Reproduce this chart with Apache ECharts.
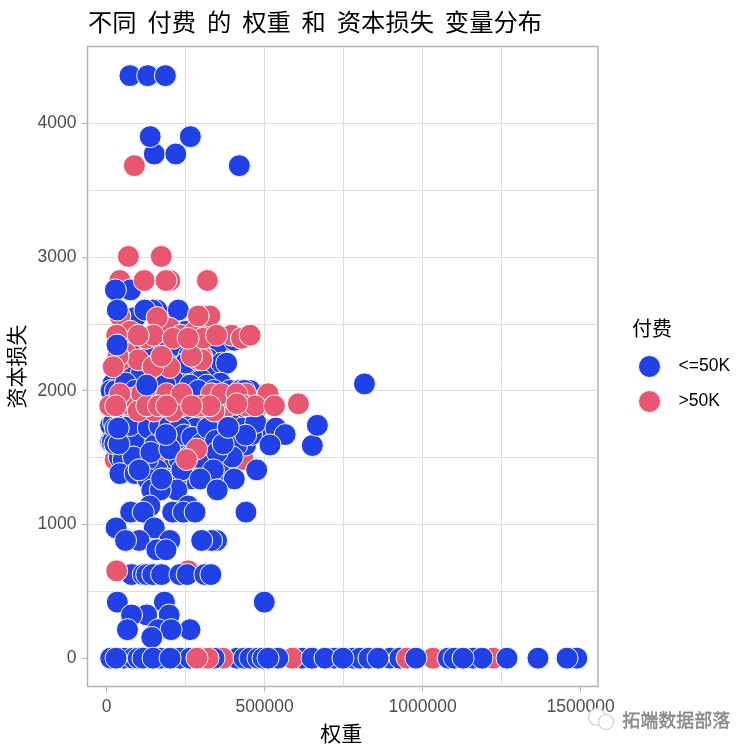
<!DOCTYPE html>
<html><head><meta charset="utf-8">
<style>html,body{margin:0;padding:0;background:#fff}#c{width:753px;height:753px}</style>
<script src="https://cdn.jsdelivr.net/npm/echarts@6/dist/echarts.min.js"></script>
</head><body><div id="c"></div>
<script>
const xTicks = [0, 500000, 1000000, 1500000];
const yTicks = [0, 1000, 2000, 3000, 4000];
const xGrid = [0, 250000, 500000, 750000, 1000000, 1250000, 1500000];
const yGrid = [0, 500, 1000, 1500, 2000, 2500, 3000, 3500, 4000, 4500];
const seriesNames = ['<=50K', '>50K'];

// blue points lying under every red point
const lowBack = [
 [121000,2603],[159000,2603],[145000,2603],[90000,2547],[200000,2467],[250000,2444],[300000,2457],
 [380000,2377],[348000,2339],[404000,2377],[60000,2282],[100000,2267],[140000,2339],[180000,2352],
 [220000,2339],[260000,2258],[320000,2238],[84000,2179],[140000,2174],[190000,2205],[232000,2179],
 [280000,2149],[330000,2129],[364000,2206],[380000,2206],[250000,2206],[110000,2129],[170000,2129],
 [210000,2080],[300000,2080],[360000,2057],[36000,2042],[20000,2051],[14000,2001],[28000,2001],[60000,2057],
 [90000,2002],[155000,2042],[185000,2042],[264000,2042],[317000,2042],[290000,2002],[340000,2002],
 [390000,2002],[422000,2002],[454000,2002],[436000,2002],[300000,1848],[250000,1848],[360000,1825],
 [410000,1844],[150000,1825],[95000,1848],[470000,1848],
 [413000,0],[618000,0],[897000,0],[928000,0]];
// red points lying under most blue points
const highBack = [
 [42000,2824],[200000,2824],[42000,2559],[327000,2559],[396000,2415],[427000,2392],[301000,2258],
 [27000,1485],[116000,1485],[169000,1485],[432000,1485],[296000,1819],[258000,653],
 [368000,0],[588000,0],[951000,0],[1033000,0],[1223000,0]];
// main body of blue points
const lowMid = [
 [74000,4356],[130000,4356],[186000,4356],[151000,3770],[219000,3770],[138000,3900],[265000,3900],[420000,3683],
 [76000,2754],[121000,2603],[227000,2603],[816000,2051],
 [110000,1672],[170000,1602],[250000,1740],[280000,1719],[330000,1669],[360000,1740],[400000,1740],[430000,1721],[490000,1719],
 [440000,1594],[380000,1504],[330000,1485],[290000,1408],[200000,1408],[160000,1408],[70000,1504],[40000,1504],[130000,1485],
 [230000,1485],[190000,1340],[270000,1340],[320000,1380],[370000,1408],[220000,1340],
 [13000,1741],[13000,1617],[18000,1617],[22000,1762],[28000,1721],[37000,1721],[26000,1602],[39000,1602],[60000,1672],[90000,1602],
 [75000,1740],[132000,1721],[153000,1594],[216000,1594],[168000,1735],[200000,1740],[232000,1721],[245000,1669],
 [188000,1669],[270000,1651],[300000,1602],[320000,1721],[345000,1628],[385000,1726],[369000,1602],[412000,1594],
 [459000,1672],[472000,1762],[536000,1721],[565000,1672],[517000,1594],[651000,1590],[667000,1741],[440000,1668],
 [53000,1485],[85000,1504],[140000,1539],[200000,1564],[260000,1504],[306000,1485],[398000,1504],[350000,1539],[240000,1408],
 [42000,1380],[90000,1380],[103000,1408],[475000,1408],[238000,1408],[338000,1408],[296000,1340],[174000,1340],[404000,1340],[130000,1340],
 [350000,1258],[222000,1258],[143000,1258],[170000,1258],[137000,1138],[258000,1138],
 [76000,1092],[116000,1092],[209000,1092],[243000,1092],[280000,1092],[441000,1092],[30000,974],[151000,974],
 [103000,880],[348000,880],[332000,880],[301000,880],[60000,880],[200000,880],[159000,810],[188000,810],
 [79000,625],[116000,625],[127000,625],[146000,625],[174000,625],[232000,625],[255000,625],[311000,625],[330000,625],
 [34000,419],[183000,419],[499000,419],[127000,323],[79000,323],[198000,323],[66000,213],[163000,213],[264000,213],[204000,213],[143000,155],
 [13000,0],[55000,0],[84000,0],[100000,0],[115000,0],[170000,0],[232000,0],[264000,0],[310000,0],[340000,0],[435000,0],[454000,0],
 [479000,0],[495000,0],[542000,0],[650000,0],[720000,0],[780000,0],[802000,0],[830000,0],
 [1081000,0],[1100000,0],[1160000,0],[1188000,0],[1488000,0]];
// red points lying over the blue body
const highTop = [
 [10000,1887],[70000,1887],[60000,1902],[85000,1944],[150000,1944],[215000,1902],[240000,1887],[350000,1902],[385000,1887],[395000,1944],
 [440000,1977],[490000,1902],[210000,1848],[150000,1848],[340000,1848],
 [70000,2415],[125000,2392],[175000,2444],[200000,2467],[235000,2415],[280000,2444],[305000,2392],[75000,2444],[60000,2282],[45000,2231],
 [100000,2231],[290000,2231],[200000,2174],
 [88000,3683],[69000,3004],[173000,3004],[119000,2824],[188000,2824],[319000,2824],[32000,653],
 [285000,1564],[253000,1485],
 [290000,2559],[160000,2547],[36000,2258],[21000,2179],[147000,2179],[301000,2231],[174000,2258],[269000,2258],
 [32000,2415],[148000,2415],[211000,2392],[258000,2392],[427000,2392],[454000,2415],[348000,2415],[100000,2415],
 [42000,1977],[111000,1977],[190000,1977],[238000,1977],[332000,1977],[364000,1977],[412000,1977],[511000,1977],
 [100000,1848],[127000,1887],[164000,1887],[443000,1887],[470000,1887],[301000,1887],[327000,1887],[269000,1887],
 [412000,1902],[190000,1887],[607000,1902],[531000,1887],[29000,1887],[321000,0],[286000,0]];
// blue points drawn last
const lowTop = [
 [28000,2754],[34000,2603],[33000,2342],[127000,2042],[188000,1672],[103000,1408],[174000,1340],[369000,1602],[39000,1602],[37000,1721],
 [385000,1726],[404000,1340],[350000,1258],
 [30000,0],[147000,0],[201000,0],[511000,0],[691000,0],[748000,0],[859000,0],[979000,0],[1128000,0],[1267000,0],[1365000,0],[1457000,0]];

const blue = '#2040E8', red = '#E85670';
function layer(name, data, color, z) {
  return {type:'scatter', name, data, symbol:'circle', symbolSize:22, z,
    itemStyle:{color, borderColor:'#fff', borderWidth:1, opacity:1},
    emphasis:{disabled:true}, silent:true, animation:false};
}
const lim = {xmin:-60400, xmax:1555000, ymin:-212, ymax:4574};
const plain = v => String(v);
const labelStyle = {color:'#4d4d4d', fontSize:17.5, fontFamily:'Liberation Sans', formatter:plain};
const cjk = '"Noto Sans CJK SC"';
const chart = echarts.init(document.getElementById('c'));
chart.setOption({
  animation:false,
  backgroundColor:'#fff',
  title:[
    {text:'不同  付费  的  权重  和  资本损失  变量分布', left:88, top:10, padding:0, textStyle:{fontSize:24.3, fontWeight:'normal', color:'#000', fontFamily:cjk}},
    {text:'付费', left:632, top:318, padding:0, textStyle:{fontSize:20, fontWeight:'normal', color:'#000', fontFamily:cjk}}
  ],
  legend:{data:seriesNames, orient:'vertical', left:633, top:350, padding:5, icon:'circle', itemWidth:22, itemHeight:22, itemGap:12,
    textStyle:{fontSize:17.5, color:'#000', fontFamily:'Liberation Sans', padding:[0,0,0,13]}, selectedMode:false,
    itemStyle:{borderColor:'#fff', borderWidth:1}},
  grid:{left:87.5, right:155, top:46.5, bottom:66.5, outerBoundsMode:'none', show:true, borderColor:'#b3b3b3', borderWidth:1.5, backgroundColor:'transparent'},
  xAxis:[
    {type:'value', min:lim.xmin, max:lim.xmax, name:'权重', nameLocation:'middle', nameGap:36,
     nameTextStyle:{fontSize:21, color:'#000', fontFamily:cjk, padding:[0,3,0,0]},
     axisLine:{show:false, onZero:false}, splitLine:{show:false},
     axisTick:{show:true, length:5, customValues:xTicks, lineStyle:{color:'#b3b3b3'}},
     axisLabel:{customValues:xTicks, margin:12, ...labelStyle}},
    {type:'value', min:lim.xmin, max:lim.xmax, axisLine:{show:false, onZero:false}, axisLabel:{show:false},
     axisTick:{show:false, customValues:xGrid}, splitLine:{show:true, showMinLine:false, showMaxLine:false, lineStyle:{color:'#dedede', width:1}}}
  ],
  yAxis:[
    {type:'value', min:lim.ymin, max:lim.ymax, name:'资本损失', nameLocation:'middle', nameGap:52,
     nameTextStyle:{fontSize:21, color:'#000', fontFamily:cjk},
     axisLine:{show:false, onZero:false}, splitLine:{show:false},
     axisTick:{show:true, length:5, customValues:yTicks, lineStyle:{color:'#b3b3b3'}},
     axisLabel:{customValues:yTicks, margin:11, ...labelStyle}},
    {type:'value', min:lim.ymin, max:lim.ymax, axisLine:{show:false, onZero:false}, axisLabel:{show:false},
     axisTick:{show:false, customValues:yGrid}, splitLine:{show:true, showMinLine:false, showMaxLine:false, lineStyle:{color:'#dedede', width:1}}}
  ],
  series:[
    layer(seriesNames[0], lowBack, blue, 2),
    layer(seriesNames[1], highBack, red, 3),
    layer(seriesNames[0], lowMid, blue, 4),
    layer(seriesNames[1], highTop, red, 5),
    layer(seriesNames[0], lowTop, blue, 6)
  ],
  graphic:[
    {type:'circle', shape:{cx:597,cy:717,r:8.5}, style:{fill:'#fff',stroke:'#cfcfcf',lineWidth:1.2}, z:20},
    {type:'circle', shape:{cx:606,cy:722,r:7.5}, style:{fill:'#fff',stroke:'#cfcfcf',lineWidth:1.2}, z:21},
    {type:'text', left:622, top:711, z:21, style:{text:'拓端数据部落', font:'18px "Noto Sans CJK SC"', fill:'#8a8a8a', stroke:'#555', lineWidth:0.3}}
  ]
});
</script></body></html>
